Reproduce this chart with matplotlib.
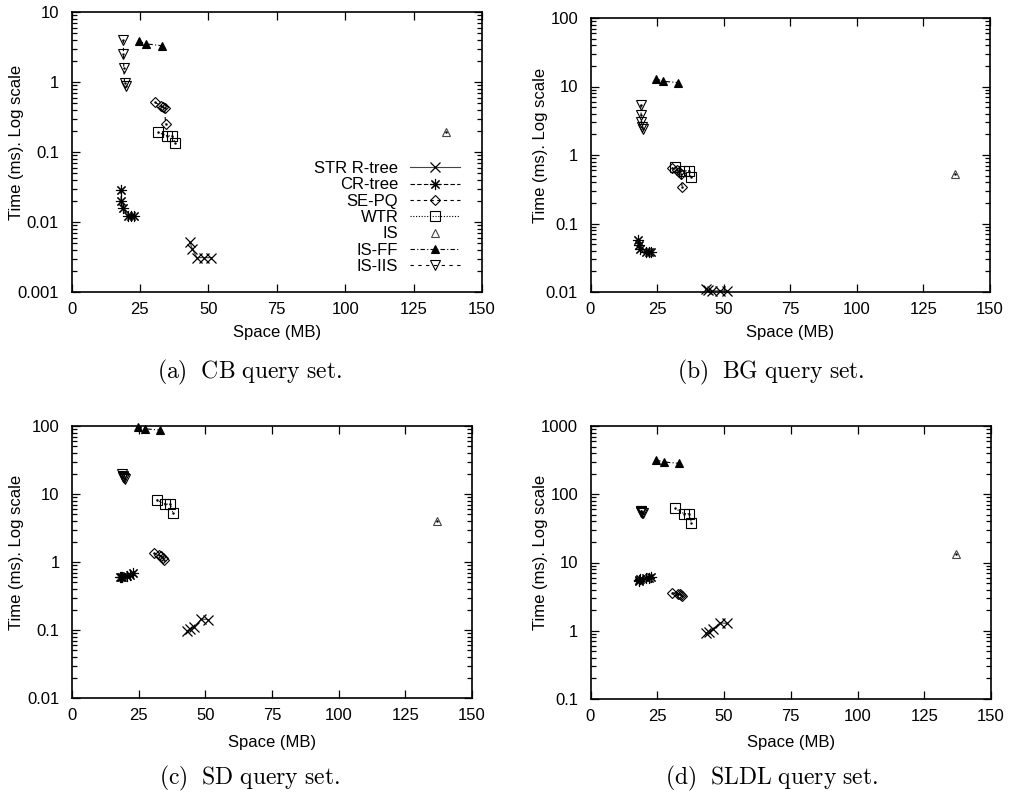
import matplotlib
matplotlib.use('Agg')
import matplotlib.pyplot as plt
from matplotlib.ticker import LogLocator, FuncFormatter, NullFormatter, FixedLocator

plt.rcParams['font.family'] = ['Liberation Sans', 'DejaVu Sans']
plt.rcParams['mathtext.fontset'] = 'cm'

# index sizes (MB), same for every query set
str_space = [43.3, 44.2, 45.8, 48.5, 51.1]
cr_space = [18.0, 18.2, 18.7, 20.8, 21.8, 22.8]
sepq_space = [30.6, 32.6, 33.4, 34.0, 34.4]
wtr_space = [31.7, 35.0, 36.9, 37.8]
is_space = [137.0]
isff_space = [24.6, 27.4, 33.0]
isiis_space = [18.9, 19.0, 19.1, 19.4, 19.8]

# query times (ms)
str_cb = [0.0051, 0.0041, 0.0031, 0.0031, 0.0031]
cr_cb = [0.029, 0.020, 0.0157, 0.0122, 0.0122, 0.0122]
sepq_cb = [0.51, 0.46, 0.44, 0.43, 0.25]
wtr_cb = [0.19, 0.17, 0.17, 0.136]
is_cb = [0.19]
isff_cb = [3.8, 3.5, 3.3]
isiis_cb = [3.98, 2.5, 1.6, 0.96, 0.88]

str_bg = [0.011, 0.0106, 0.0104, 0.0104, 0.0104]
cr_bg = [0.057, 0.049, 0.042, 0.039, 0.038, 0.038]
sepq_bg = [0.65, 0.60, 0.56, 0.53, 0.34]
wtr_bg = [0.66, 0.59, 0.59, 0.47]
is_bg = [0.52]
isff_bg = [12.9, 11.9, 11.4]
isiis_bg = [5.4, 3.85, 3.05, 2.6, 2.37]

str_sd = [0.098, 0.103, 0.11, 0.145, 0.142]
cr_sd = [0.60, 0.60, 0.61, 0.62, 0.65, 0.68]
sepq_sd = [1.34, 1.27, 1.22, 1.16, 1.07]
wtr_sd = [8.2, 7.1, 7.1, 5.3]
is_sd = [4.0]
isff_sd = [98, 91, 87]
isiis_sd = [19.5, 18.7, 18.0, 17.2, 16.4]

str_sldl = [0.92, 0.97, 1.05, 1.31, 1.28]
cr_sldl = [5.3, 5.6, 5.8, 5.9, 6.0, 6.1]
sepq_sldl = [3.6, 3.5, 3.45, 3.35, 3.2]
wtr_sldl = [62, 52, 52, 38]
is_sldl = [13.3]
isff_sldl = [318, 297, 284]
isiis_sldl = [57, 56, 55, 54, 53]

names = ['STR R-tree', 'CR-tree', 'SE-PQ', 'WTR', 'IS', 'IS-FF', 'IS-IIS']
spaces = [str_space, cr_space, sepq_space, wtr_space, is_space, isff_space, isiis_space]
times = {
    'cb': [str_cb, cr_cb, sepq_cb, wtr_cb, is_cb, isff_cb, isiis_cb],
    'bg': [str_bg, cr_bg, sepq_bg, wtr_bg, is_bg, isff_bg, isiis_bg],
    'sd': [str_sd, cr_sd, sepq_sd, wtr_sd, is_sd, isff_sd, isiis_sd],
    'sldl': [str_sldl, cr_sldl, sepq_sldl, wtr_sldl, is_sldl, isff_sldl, isiis_sldl],
}

# gnuplot-like point/line styles
styles = [
    dict(marker='x', ms=7, mew=0.9, color='#444444', mec='black', ls='-'),
    dict(marker=(8, 2, 0), ms=8, mew=0.8, color='black', ls=(0, (4, 2))),
    dict(marker='D', ms=5, mew=0.8, color='black', mfc='none', ls=(0, (3, 3))),
    dict(marker='s', ms=7.5, mew=0.8, color='black', mfc='none', ls=(0, (1, 1.5))),
    dict(marker='^', ms=6, mew=0.8, color='#444444', mfc='none', ls='none'),
    dict(marker='^', ms=6, mew=0.8, color='black', mfc='black', ls=(0, (4, 2, 1, 2))),
    dict(marker='v', ms=7, mew=0.8, color='black', mfc='none', ls=(0, (3, 4))),
]
dotted_centre = [False, False, True, True, True, False, True]

W, H = 1011, 802
fig = plt.figure(figsize=(W / 100, H / 100), dpi=100)

def px_rect(l, t, r, b):
    return [l / W, 1 - b / H, (r - l) / W, (b - t) / H]

panels = [
    ('cb', px_rect(71.5, 12, 482, 292), (0.001, 10), r'$\mathrm{(a)\ \ CB\ query\ set.}$', 249, 372, 17, 142, 332),
    ('bg', px_rect(590.5, 18, 990, 292), (0.01, 100), r'$\mathrm{(b)\ \ BG\ query\ set.}$', 771, 372, 541, 145, 332),
    ('sd', px_rect(72, 426, 472, 698), (0.01, 100), r'$\mathrm{(c)\ \ SD\ query\ set.}$', 249, 778, 17, 552, 742),
    ('sldl', px_rect(590.5, 426, 991, 699), (0.1, 1000), r'$\mathrm{(d)\ \ SLDL\ query\ set.}$', 771, 778, 541, 552, 742),
]

for key, rect, ylim, caption, cap_x, cap_y, yl_x, yl_y, xl_y in panels:
    ax = fig.add_axes(rect)
    for name, xs, ys, st, dot in zip(names, spaces, times[key], styles, dotted_centre):
        ax.plot(xs, ys, lw=0.8, label=name, clip_on=False, **st)
        if dot:
            ax.plot(xs, ys, ls='none', marker='.', ms=1.5, color='black', clip_on=False)
    ax.set_yscale('log')
    ax.set_xlim(0, 150)
    ax.set_ylim(*ylim)
    ax.xaxis.set_major_locator(FixedLocator([0, 25, 50, 75, 100, 125, 150]))
    ax.yaxis.set_major_locator(LogLocator(base=10, numticks=10))
    ax.yaxis.set_minor_locator(LogLocator(base=10, subs=range(2, 10), numticks=10))
    ax.yaxis.set_major_formatter(FuncFormatter(lambda v, p: '{:g}'.format(v)))
    ax.yaxis.set_minor_formatter(NullFormatter())
    ax.tick_params(which='both', direction='in', top=True, right=True, labelsize=12, width=0.9)
    ax.tick_params(which='major', length=6)
    ax.tick_params(which='minor', length=3.5)
    ax.tick_params(axis='y', pad=9)
    ax.tick_params(axis='x', pad=7)
    for sp in ax.spines.values():
        sp.set_linewidth(1.2)

    x_mid = (rect[0] + rect[2] / 2)
    fig.text(x_mid, 1 - xl_y / H, 'Space (MB)', ha='center', va='center', fontsize=12)
    fig.text(yl_x / W, 1 - yl_y / H, 'Time (ms). Log scale', rotation=90, ha='center', va='center', fontsize=12)
    fig.text(cap_x / W, 1 - cap_y / H, caption, ha='center', va='center', fontsize=17)

    if key == 'cb':
        ax.legend(loc='upper right', bbox_to_anchor=(460 / W, 1 - 161 / H), bbox_transform=fig.transFigure,
                  frameon=False, markerfirst=False, fontsize=12, handlelength=3.0,
                  handletextpad=0.7, labelspacing=0.08, borderpad=0, borderaxespad=0)

fig.savefig('out.png', dpi=100)
